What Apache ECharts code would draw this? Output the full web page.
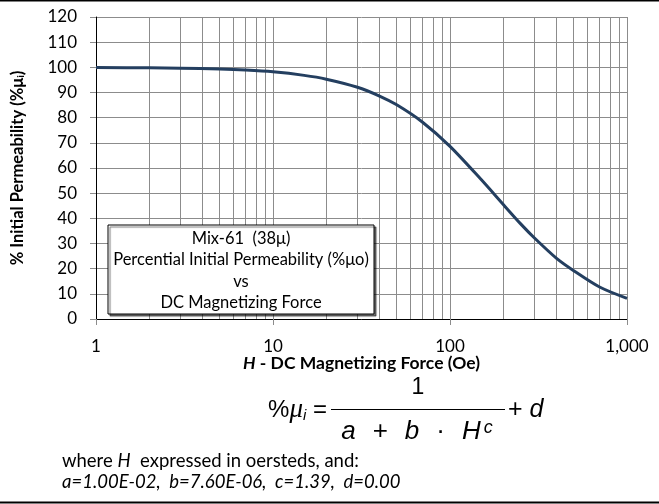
<!DOCTYPE html>
<html>
<head>
<meta charset="utf-8">
<script src="https://cdn.jsdelivr.net/npm/echarts@6/dist/echarts.min.js"></script>
<style>html,body{margin:0;padding:0;background:#fff}#c{width:659px;height:504px}</style>
</head>
<body>
<div id="c"></div>
<script>
// H values (Oe) and % initial permeability
const hValues = [1, 2, 3, 5, 7, 10, 15, 20, 30, 40, 50, 70, 100, 150, 200, 250, 300, 400, 500, 700, 1000];
const permValues = [99.9, 99.8, 99.65, 99.3, 98.9, 98.2, 96.8, 95.3, 92.1, 88.6, 85.1, 78.2, 68.6, 55.4, 45.5, 37.9, 32.2, 24.1, 19.2, 12.7, 8.2];
const xTickLabels = {1: '1', 10: '10', 100: '100', 1000: '1,000'};
const minorGridValues = [2,3,4,5,6,7,8,9,20,30,40,50,60,70,80,90,200,300,400,500,600,700,800,900];
const boxLines = ['Mix-61  (38\u03bc)', 'Percential Initial Permeability (%\u03bco)', 'vs', 'DC Magnetizing Force'];

const chart = echarts.init(document.getElementById('c'), null, {renderer: 'canvas'});
const font = 'Lato, "Open Sans", sans-serif';
const mfont = '"Liberation Sans", sans-serif';
const gridColor = '#8c8c8c';

const graphics = [
  {type: 'line', z: 100, shape: {x1: 0, y1: 0.5, x2: 659, y2: 0.5}, style: {stroke: '#000', lineWidth: 2}},
  {type: 'line', z: 100, shape: {x1: 0, y1: 502.5, x2: 659, y2: 502.5}, style: {stroke: '#000', lineWidth: 2}},
  {type: 'rect', z: 100, shape: {x: 108, y: 225, width: 266, height: 89},
    style: {fill: '#fff', stroke: '#000', lineWidth: 1, shadowColor: 'rgba(0,0,0,0.55)', shadowOffsetX: 2, shadowOffsetY: 2, shadowBlur: 1}}
];
boxLines.forEach((t, i) => graphics.push({
  type: 'text', z: 101, x: 241, y: 238.5 + i * 21.5,
  style: {text: t, font: '16.5px ' + font, fill: '#000', textAlign: 'center', textVerticalAlign: 'middle'}
}));
graphics.push(
  {type: 'text', x: 327, y: 410, z: 101,
    style: {text: '%{m|\u03bc}{s|i} =', font: '24px ' + mfont, fill: '#000', textAlign: 'right', textVerticalAlign: 'middle',
      rich: {m: {fontFamily: '"Liberation Serif", serif', fontStyle: 'italic', fontSize: 27},
             s: {fontFamily: mfont, fontStyle: 'italic', fontSize: 15, verticalAlign: 'bottom'}}}},
  {type: 'text', x: 418, y: 388, z: 101,
    style: {text: '1', font: '23px ' + mfont, fill: '#000', textAlign: 'center', textVerticalAlign: 'middle'}},
  {type: 'line', z: 101, shape: {x1: 331, y1: 409.5, x2: 505, y2: 409.5}, style: {stroke: '#000', lineWidth: 1}},
  {type: 'text', x: 417, y: 432, z: 101,
    style: {text: '{i|a}{o|+}{i|b}{o|\u00b7}{i|H}{c|c}', font: '24px ' + mfont, fill: '#000', textAlign: 'center', textVerticalAlign: 'middle',
      rich: {i: {fontFamily: mfont, fontStyle: 'italic', fontSize: 26},
             o: {fontFamily: mfont, fontSize: 26, padding: [0, 17, 0, 17]},
             c: {fontFamily: mfont, fontStyle: 'italic', fontSize: 18, verticalAlign: 'top', padding: [0, 0, 0, 3]}}}},
  {type: 'text', x: 508, y: 410, z: 101,
    style: {text: '+ {i|d}', font: '25px ' + mfont, fill: '#000', textAlign: 'left', textVerticalAlign: 'middle',
      rich: {i: {fontFamily: mfont, fontStyle: 'italic', fontSize: 25}}}},
  {type: 'text', x: 62, y: 461, z: 101,
    style: {text: 'where {i|H}  expressed in oersteds, and:', font: '18.5px ' + font, fill: '#000', textAlign: 'left', textVerticalAlign: 'middle',
      rich: {i: {fontFamily: font, fontSize: 18.5, fontStyle: 'italic'}}}},
  {type: 'text', x: 62, y: 482, z: 101,
    style: {text: 'a=1.00E-02,  b=7.60E-06,  c=1.39,  d=0.00', font: 'italic 18.5px ' + font, fill: '#000', textAlign: 'left', textVerticalAlign: 'middle'}}
);

chart.setOption({
  animation: false,
  grid: {left: 96, right: 32, top: 17, bottom: 185, containLabel: false},
  xAxis: {
    type: 'log', logBase: 10, min: 1, max: 1000,
    name: '{i|H} - DC Magnetizing Force (Oe)', nameLocation: 'middle', nameGap: 35, nameMoveOverlap: false,
    nameTextStyle: {fontFamily: font, fontSize: 17.5, fontWeight: 'bold', color: '#000',
      rich: {i: {fontFamily: font, fontSize: 17.5, fontWeight: 'bold', fontStyle: 'italic', color: '#000'}}},
    axisLine: {show: true, lineStyle: {color: '#000', width: 1}},
    axisTick: {show: true, length: 6, lineStyle: {color: gridColor}},
    axisLabel: {margin: 19, fontFamily: font, fontSize: 17, color: '#000',
      formatter: v => xTickLabels[Math.round(v)] || ''},
    splitLine: {show: true, lineStyle: {color: gridColor, width: 1}}
  },
  yAxis: {
    type: 'value', min: 0, max: 120, interval: 10,
    name: '% Initial Permeability (%\u03bc{s|i})', nameLocation: 'middle', nameRotate: 90, nameGap: 70,
    nameTextStyle: {fontFamily: font, fontSize: 16.5, fontWeight: 'bold', color: '#000',
      rich: {s: {fontFamily: font, fontSize: 10, fontWeight: 'bold', color: '#000', verticalAlign: 'bottom'}}},
    axisLine: {show: true, lineStyle: {color: '#000', width: 1}},
    axisTick: {show: true, length: 6, lineStyle: {color: gridColor}},
    axisLabel: {margin: 19, fontFamily: font, fontSize: 17, color: '#000'},
    splitLine: {show: true, lineStyle: {color: gridColor, width: 1}}
  },
  series: [{
    type: 'line', data: hValues.map((h, i) => [h, permValues[i]]),
    smooth: 0.3, showSymbol: false, z: 5,
    lineStyle: {color: '#243f60', width: 3},
    markLine: {
      silent: true, symbol: ['none', 'none'], label: {show: false}, animation: false, z: 1,
      lineStyle: {color: gridColor, width: 1, type: 'solid'},
      data: minorGridValues.map(v => ({xAxis: v}))
    }
  }],
  graphic: {z: 100, elements: graphics}
});
</script>
</body>
</html>
